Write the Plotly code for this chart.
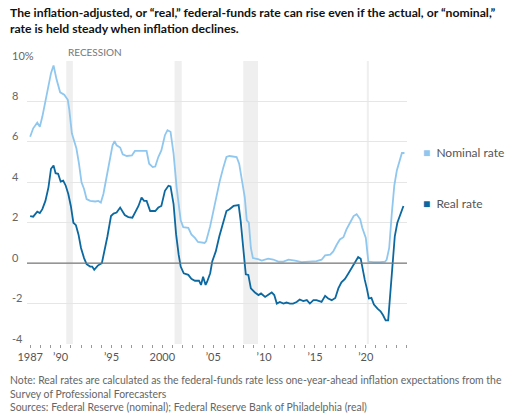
import plotly.graph_objects as go

# ---- data ----
nominal_x = [1987.0, 1987.3, 1987.7, 1987.95, 1988.2, 1988.5, 1988.7, 1989.05, 1989.3, 1989.6,
             1989.95, 1990.35, 1990.7, 1990.85, 1991.1, 1991.35, 1991.55, 1991.8, 1992.05, 1992.3,
             1992.55, 1992.9, 1993.4, 1993.7, 1993.95, 1994.2, 1994.5, 1994.85, 1995.1, 1995.3,
             1995.5, 1995.85, 1996.1, 1996.5, 1997.0, 1997.3, 1997.8, 1998.45, 1998.7, 1999.05,
             1999.3, 1999.6, 1999.9, 2000.25, 2000.5, 2000.8, 2001.1, 2001.4, 2001.8, 2002.05,
             2002.55, 2002.85, 2003.2, 2003.5, 2004.15, 2004.3, 2004.7, 2005.0, 2005.3, 2005.65,
             2006.0, 2006.3, 2006.6, 2007.3, 2007.55, 2007.8, 2008.1, 2008.3, 2008.5, 2008.7,
             2008.9, 2009.4, 2009.77, 2010.4, 2010.9, 2011.4, 2011.9, 2012.4, 2013.05, 2013.7,
             2014.35, 2015.15, 2015.65, 2016.0, 2016.5, 2016.8, 2017.15, 2017.45, 2017.8, 2018.1,
             2018.45, 2018.8, 2019.1, 2019.45, 2019.65, 2020.0, 2020.25, 2020.75, 2021.4, 2021.9,
             2022.05, 2022.3, 2022.55, 2022.8, 2023.05, 2023.3, 2023.55, 2023.8]
nominal_y = [6.25, 6.67, 6.95, 6.75, 7.25, 8.0, 8.4, 9.4, 9.78, 9.08,
             8.45, 8.33, 8.08, 7.58, 6.42, 5.92, 5.67, 4.92, 4.0, 3.67,
             3.17, 3.08, 3.05, 3.08, 3.0, 3.42, 4.25, 5.08, 5.83, 6.03,
             5.83, 5.72, 5.38, 5.3, 5.33, 5.55, 5.55, 5.55, 4.92, 4.75,
             4.78, 5.25, 5.58, 6.33, 6.58, 6.5, 5.42, 3.75, 2.12, 1.78,
             1.75, 1.42, 1.25, 1.05, 1.0, 1.08, 1.83, 2.58, 3.33, 4.08,
             4.75, 5.25, 5.3, 5.25, 4.92, 4.25, 3.25, 2.12, 2.0, 0.75,
             0.25, 0.2, 0.13, 0.22, 0.18, 0.08, 0.08, 0.17, 0.13, 0.05,
             0.08, 0.1, 0.17, 0.38, 0.42, 0.58, 0.92, 1.17, 1.28, 1.67,
             2.0, 2.33, 2.42, 2.17, 1.75, 1.25, 0.08, 0.05, 0.05, 0.08,
             0.17, 0.75, 2.42, 3.83, 4.58, 5.08, 5.45, 5.45]

real_x = [1987.0, 1987.3, 1987.7, 1987.95, 1988.2, 1988.5, 1988.8, 1989.05, 1989.3, 1989.5,
          1989.75, 1990.0, 1990.25, 1990.5, 1990.75, 1991.0, 1991.25, 1991.5, 1991.75, 1992.0,
          1992.3, 1992.55, 1992.9, 1993.1, 1993.3, 1993.65, 1994.05, 1994.3, 1994.6, 1994.95,
          1995.2, 1995.5, 1995.85, 1996.3, 1996.65, 1997.05, 1997.4, 1997.65, 1997.95, 1998.2,
          1998.45, 1998.8, 1999.3, 1999.6, 1999.9, 2000.25, 2000.6, 2000.8, 2001.1, 2001.35,
          2001.6, 2001.8, 2002.1, 2002.55, 2002.85, 2003.2, 2003.6, 2003.8, 2004.0, 2004.25,
          2004.4, 2004.7, 2004.9, 2005.25, 2005.6, 2006.0, 2006.3, 2006.6, 2007.0, 2007.5,
          2007.7, 2007.95, 2008.2, 2008.45, 2008.7, 2009.1, 2009.45, 2009.7, 2010.1, 2010.45,
          2010.75, 2011.0, 2011.25, 2011.55, 2011.9, 2012.2, 2012.55, 2012.85, 2013.2, 2013.5,
          2013.85, 2014.2, 2014.5, 2014.85, 2015.15, 2015.65, 2016.0, 2016.3, 2016.65, 2017.0,
          2017.3, 2017.6, 2017.95, 2018.3, 2018.6, 2018.95, 2019.25, 2019.5, 2019.65, 2019.9,
          2020.1, 2020.3, 2020.55, 2020.8, 2021.15, 2021.45, 2021.7, 2021.95, 2022.2, 2022.35,
          2022.6, 2022.85, 2023.1, 2023.45, 2023.7]
real_y = [2.33, 2.3, 2.55, 2.48, 2.67, 3.08, 3.75, 4.67, 4.83, 4.45,
          4.42, 4.03, 4.08, 3.83, 3.42, 2.83, 2.0, 1.88, 1.42, 0.75,
          0.25, -0.05, -0.17, -0.17, -0.33, -0.12, 0.0, 0.58, 1.33, 2.33,
          2.45, 2.5, 2.75, 2.38, 2.28, 2.25, 2.58, 2.83, 3.25, 3.08,
          3.08, 2.58, 2.58, 2.75, 2.83, 3.58, 3.83, 3.8, 2.92, 1.42,
          0.42, -0.17, -0.5, -0.58, -0.78, -0.87, -0.87, -1.08, -0.67, -1.08,
          -0.92, -0.5, 0.08, 0.58, 1.33, 2.08, 2.58, 2.67, 2.83, 2.87,
          2.08, 0.75, -0.55, -0.58, -1.25, -1.45, -1.58, -1.5, -1.67, -1.55,
          -1.45, -1.58, -2.0, -1.92, -2.0, -1.95, -2.0, -2.0, -1.92, -1.8,
          -1.88, -1.83, -2.0, -1.83, -1.83, -1.92, -1.62, -1.75, -1.83, -1.72,
          -1.25, -0.95, -0.78, -0.5, -0.25, 0.0, 0.3, 0.22, -0.25, -0.83,
          -1.25, -1.75, -1.72, -2.05, -2.25, -2.38, -2.58, -2.83, -2.83, -1.92,
          -0.25, 1.33, 2.0, 2.5, 2.83]

recession_start = [1990.55, 2001.2, 2007.95, 2020.1]
recession_end = [1991.2, 2001.9, 2009.4, 2020.3]

y_ticks = [10, 8, 6, 4, 2, 0, -2, -4]
y_tick_labels = ["10%", "8", "6", "4", "2", "0", "-2", "-4"]
x_ticks = [1987, 1990, 1995, 2000, 2005, 2010, 2015, 2020]
x_tick_labels = ["1987", "’90", "’95", "2000", "’05", "’10", "’15", "’20"]
series_names = ["Nominal rate", "Real rate"]

NOM_COLOR = "#8fc7ef"
REAL_COLOR = "#0b68a0"
FONT = "Lato"

fig = go.Figure()
for s, e in zip(recession_start, recession_end):
    fig.add_shape(type="rect", xref="x", yref="y", x0=s, x1=e, y0=-4, y1=10,
                  fillcolor="#efefef", line_width=0, layer="below")

fig.add_trace(go.Scatter(x=nominal_x, y=nominal_y, mode="lines", name=series_names[0],
                         line=dict(color=NOM_COLOR, width=1.8, shape="linear")))
fig.add_trace(go.Scatter(x=real_x, y=real_y, mode="lines", name=series_names[1],
                         line=dict(color=REAL_COLOR, width=1.8, shape="linear")))

# zero line
fig.add_shape(type="line", xref="paper", yref="y", x0=0, x1=1, y0=0, y1=0,
              line=dict(color="#7a7a7a", width=1.2))

# year ticks (all years) with selected labels
all_years = list(range(1987, 2025))
ticktext = [x_tick_labels[x_ticks.index(y)] if y in x_ticks else "" for y in all_years]

fig.update_xaxes(range=[1986.69, 2024.05], tickvals=all_years, ticktext=ticktext,
                 ticks="outside", ticklen=3, tickcolor="#9a9a9a", tickwidth=1,
                 showgrid=False, zeroline=False, showline=False,
                 tickfont=dict(family=FONT, size=11, color="#555"))
fig.update_yaxes(range=[-4, 10], tickvals=y_ticks, showticklabels=False,
                 showgrid=True, gridcolor="#e6e6e6", gridwidth=1, zeroline=False,
                 showline=False)

# y tick labels above gridlines
for v, t in zip(y_ticks, y_tick_labels):
    fig.add_annotation(xref="paper", yref="y", x=-0.046, y=v, text=t, showarrow=False,
                       xanchor="left", yanchor="middle", yshift=6,
                       font=dict(family=FONT, size=11, color="#666"))

# recession label
fig.add_annotation(xref="x", yref="paper", x=1990.55, y=1.0, text="RECESSION", showarrow=False,
                   xanchor="left", yanchor="bottom", yshift=1,
                   font=dict(family=FONT, size=10, color="#777"))

# legend-like labels
for name, color, yv in [(series_names[0], NOM_COLOR, 5.46), (series_names[1], REAL_COLOR, 2.93)]:
    fig.add_annotation(xref="paper", yref="y", x=1.037, y=yv,
                       text=f"<span style='color:{color}'>■</span>  {name}", showarrow=False,
                       xanchor="left", yanchor="middle",
                       font=dict(family=FONT, size=12, color="#555"))

# title
fig.add_annotation(xref="paper", yref="paper", x=-0.05, y=1.0, yshift=58, xanchor="left",
                   yanchor="top", align="left", showarrow=False,
                   text="<b>The inflation-adjusted, or “real,” federal-funds rate can rise even if the actual, or “nominal,”<br>rate is held steady when inflation declines.</b>",
                   font=dict(family=FONT, size=12.2, color="#111"))

# notes
fig.add_annotation(xref="paper", yref="paper", x=-0.05, y=0, yshift=-28, xanchor="left",
                   yanchor="top", align="left", showarrow=False,
                   text="Note: Real rates are calculated as the federal-funds rate less one-year-ahead inflation expectations from the<br>Survey of Professional Forecasters<br>Sources: Federal Reserve (nominal); Federal Reserve Bank of Philadelphia (real)",
                   font=dict(family=FONT, size=10.45, color="#666"))

fig.update_layout(width=512, height=420, margin=dict(l=27, r=105, t=61, b=76),
                  paper_bgcolor="white", plot_bgcolor="white", showlegend=False,
                  font=dict(family=FONT))

fig.write_html("out.html", config={"displayModeBar": False},
               post_script="document.body.style.margin='0';")
